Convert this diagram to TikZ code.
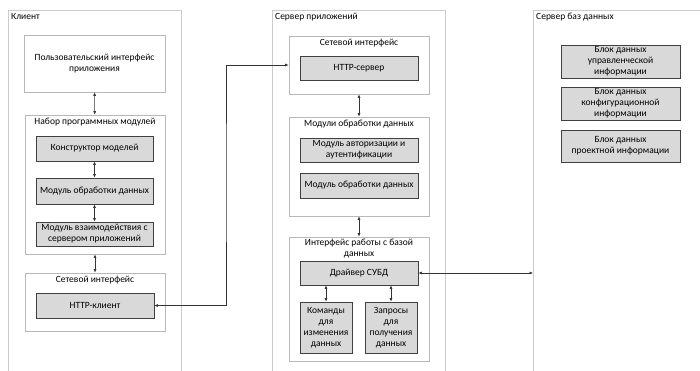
\documentclass[tikz,border=0pt]{standalone}
\usepackage{fontspec}
\setmainfont{Carlito}
\usetikzlibrary{arrows.meta,positioning,shadows}
\tikzset{
	frame/.style={draw=black!20, line width=1pt},
	part/.style={draw=black!28, line width=0.7pt, fill=white, inner sep=0pt},
	block/.style={draw=black!75, fill=black!15, line width=0.8pt, align=center, inner sep=1pt,
		drop shadow={shadow xshift=0.8pt, shadow yshift=-0.8pt, opacity=0.25}},
	title/.style={anchor=north, inner sep=3pt, align=center},
	link/.style={{Latex[length=3.5pt,width=3pt]}-{Latex[length=3.5pt,width=3pt]}, draw=black!80, line width=0.6pt},
}
\begin{document}
\begin{tikzpicture}[x=1pt, y=-1pt, every node/.style={font=\fontsize{9.5}{11}\selectfont}]
				\useasboundingbox (0,0) rectangle (700,370);
				\coordinate (CL) at (8,10);
				\coordinate (CR) at (181,10);
				\coordinate (SL) at (272,10);
				\coordinate (SR) at (445,10);
				\coordinate (DL) at (533,10);
				\coordinate (bend) at (226,180);
				\draw[frame] (CL |- 0,372) -- (CL) -- (CR) -- (CR |- 0,372);
				\draw[frame] (SL |- 0,372) -- (SL) -- (SR) -- (SR |- 0,372);
				\draw[frame] (DL |- 0,372) -- (DL) -- (702,10);
				\node[anchor=north west, inner sep=3pt] at (CL) {Клиент};
				\node[anchor=north west, inner sep=3pt] at (SL) {Сервер приложений};
				\node[anchor=north west, inner sep=3pt] at (DL) {Сервер баз данных};
				% Клиент
				\node[part, minimum width=141, minimum height=57, align=center, inner sep=2pt] (ui) at (94.5,63.5) {Пользовательский интерфейс\\приложения};
				\node[part, minimum width=140, minimum height=139] (mods) at (95,184.5) {};
				\node[title] at (mods.north) {Набор программных модулей};
				\node[block, minimum width=117, minimum height=25] (ctor) at (94.5,148.5) {Конструктор моделей};
				\node[block, minimum width=117, minimum height=26] (proc) at (94.5,191) {Модуль обработки данных};
				\node[block, minimum width=117, minimum height=24] (inter) at (94.5,234) {Модуль взаимодействия с\\сервером приложений};
				\node[part, minimum width=140, minimum height=58] (netc) at (95,302) {};
				\node[title] at (netc.north) {Сетевой интерфейс};
				\node[block, minimum width=118, minimum height=25] (httpc) at (95,305.5) {HTTP-клиент};
				% Сервер приложений
				\node[part, minimum width=140, minimum height=58] (nets) at (359,65) {};
				\node[title] at (nets.north) {Сетевой интерфейс};
				\node[block, minimum width=118, minimum height=24] (https) at (359,68) {HTTP-сервер};
				\node[part, minimum width=140, minimum height=99] (dmods) at (359,166.5) {};
				\node[title] at (dmods.north) {Модули обработки данных};
				\node[block, minimum width=118, minimum height=24] (auth) at (359,150) {Модуль авторизации и\\аутентификации};
				\node[block, minimum width=118, minimum height=25] (dproc) at (359,185.5) {Модуль обработки данных};
				\node[part, minimum width=140, minimum height=124] (dbi) at (359,299) {};
				\node[title, inner sep=2pt] at (dbi.north) {Интерфейс работы с базой\\данных};
				\node[block, minimum width=118, minimum height=24] (drv) at (359,273) {Драйвер СУБД};
				\node[block, minimum width=52, minimum height=51] (cmd) at (326,327.5) {Команды\\для\\изменения\\данных};
				\node[block, minimum width=52, minimum height=51] (qry) at (391,327.5) {Запросы\\для\\получения\\данных};
				% Сервер баз данных
				\node[block, minimum width=119, minimum height=33] (mgmt) at (620.5,61.5) {Блок данных\\управленческой\\информации};
				\node[block, minimum width=119, minimum height=33] (conf) at (620.5,103.5) {Блок данных\\конфигурационной\\информации};
				\node[block, minimum width=119, minimum height=32] (proj) at (620.5,146) {Блок данных\\проектной информации};
				% связи
				\draw[link] (ui) -- (mods);
				\draw[link] (ctor) -- (proc);
				\draw[link] (proc) -- (inter);
				\draw[link] (mods) -- (netc);
				\draw[link] (httpc.east) -| (bend) |- (nets.west);
				\draw[link] (nets) -- (dmods);
				\draw[link] (dmods) -- (dbi);
				\draw[link] (drv.south -| cmd) -- (cmd.north);
				\draw[link] (drv.south -| qry) -- (qry.north);
				\draw[link] (drv.east) -- (drv.east -| DL);
			\end{tikzpicture}
\end{document}
